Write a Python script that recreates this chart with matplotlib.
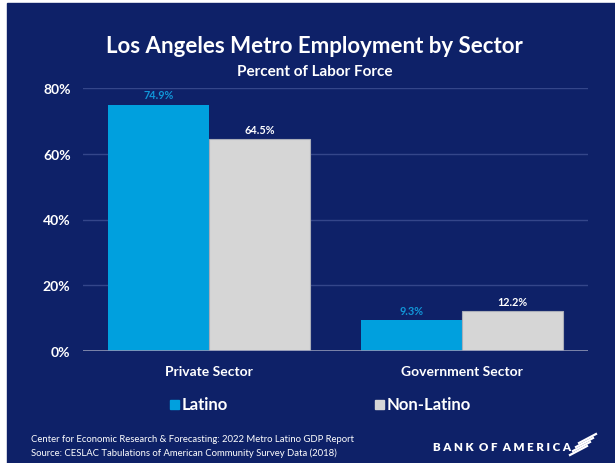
import matplotlib.pyplot as plt
import numpy as np
from matplotlib.patches import Rectangle

# Data
sectors = ["Private Sector", "Government Sector"]
latino = [74.9, 9.3]
non_latino = [64.5, 12.2]
y_ticks = [0, 20, 40, 60, 80]

navy = "#0e2168"
blue = "#00a0de"
grey = "#d6d6d6"

plt.rcParams["font.family"] = ["Lato", "DejaVu Sans"]
plt.rcParams["font.weight"] = "bold"

W, H = 615, 464
fig = plt.figure(figsize=(W / 100, H / 100), dpi=100, facecolor="white")

# navy panel (thin white border on left/top like the screenshot)
fig.patches.append(Rectangle((7 / W, 0), 1 - 7 / W, 1 - 4 / H,
                             transform=fig.transFigure, color=navy, zorder=-5))


def fx(px):
    return px / W


def fy(py):
    return 1 - py / H


ax = fig.add_axes([fx(83), fy(352), fx(588) - fx(83), fy(89) - fy(352)])
ax.patch.set_alpha(0)

x = np.arange(len(sectors))
bw = 0.4
ax.bar(x - bw / 2, latino, width=bw, color=blue, zorder=3)
ax.bar(x + bw / 2, non_latino, width=bw, color=grey, edgecolor="#a9adb8",
       linewidth=0.8, zorder=3)

for i in range(len(sectors)):
    ax.text(x[i] - bw / 2, latino[i] + 3.0, f"{latino[i]}%", ha="center",
            va="center", color="#1196d8", fontsize=7.8, fontweight="bold")
    ax.text(x[i] + bw / 2, non_latino[i] + 3.0, f"{non_latino[i]}%", ha="center",
            va="center", color="white", fontsize=7.8, fontweight="bold")

ax.set_xlim(-0.5, 1.5)
ax.set_ylim(0, 80)
ax.set_yticks(y_ticks)
ax.set_yticklabels([f"{t}%" for t in y_ticks], color="white", fontsize=10,
                   fontweight="bold")
ax.set_xticks(x)
ax.set_xticklabels(sectors, color="white", fontsize=10, fontweight="bold")
ax.tick_params(axis="x", length=0, pad=10)
ax.tick_params(axis="y", length=0, pad=9)
ax.grid(axis="y", color="#34468a", linewidth=1, zorder=0)
ax.axhline(0, color="#8c93b3", linewidth=1.2, zorder=4)
for s in ax.spines.values():
    s.set_visible(False)

# Titles
fig.text(fx(314), fy(47), "Los Angeles Metro Employment by Sector", ha="center",
         va="center", color="white", fontsize=16, fontweight="bold")
fig.text(fx(315), fy(72), "Percent of Labor Force", ha="center", va="center",
         color="white", fontsize=11, fontweight="bold")

# Legend
for sx, col, lab in [(170, blue, "Latino"), (375, grey, "Non-Latino")]:
    fig.patches.append(Rectangle((fx(sx), fy(410)), fx(9), 9 / H,
                                 transform=fig.transFigure, color=col, zorder=2))
    fig.text(fx(sx + 12), fy(405), lab, ha="left", va="center", color="white",
             fontsize=12, fontweight="bold")

# Footer
fig.text(fx(31), fy(440), "Center for Economic Research & Forecasting: 2022 Metro Latino GDP Report",
         ha="left", va="center", color="white", fontsize=6.8, fontweight="normal")
fig.text(fx(31), fy(453), "Source: CESLAC Tabulations of American Community Survey Data (2018)",
         ha="left", va="center", color="white", fontsize=6.8, fontweight="normal")
fig.text(fx(433), fy(448), "B A N K  O F  A M E R I C A", ha="left", va="center",
         color="white", fontsize=8.3, fontweight="heavy")

# flag mark
for k in range(4):
    x0 = 570 + k * 3
    y0 = 456 - k * 4
    fig.add_artist(plt.Line2D([fx(x0), fx(x0 + 17)], [fy(y0), fy(y0 - 9)],
                              transform=fig.transFigure, color="white",
                              linewidth=1.6))

fig.savefig("out.png", dpi=100, facecolor="white")
